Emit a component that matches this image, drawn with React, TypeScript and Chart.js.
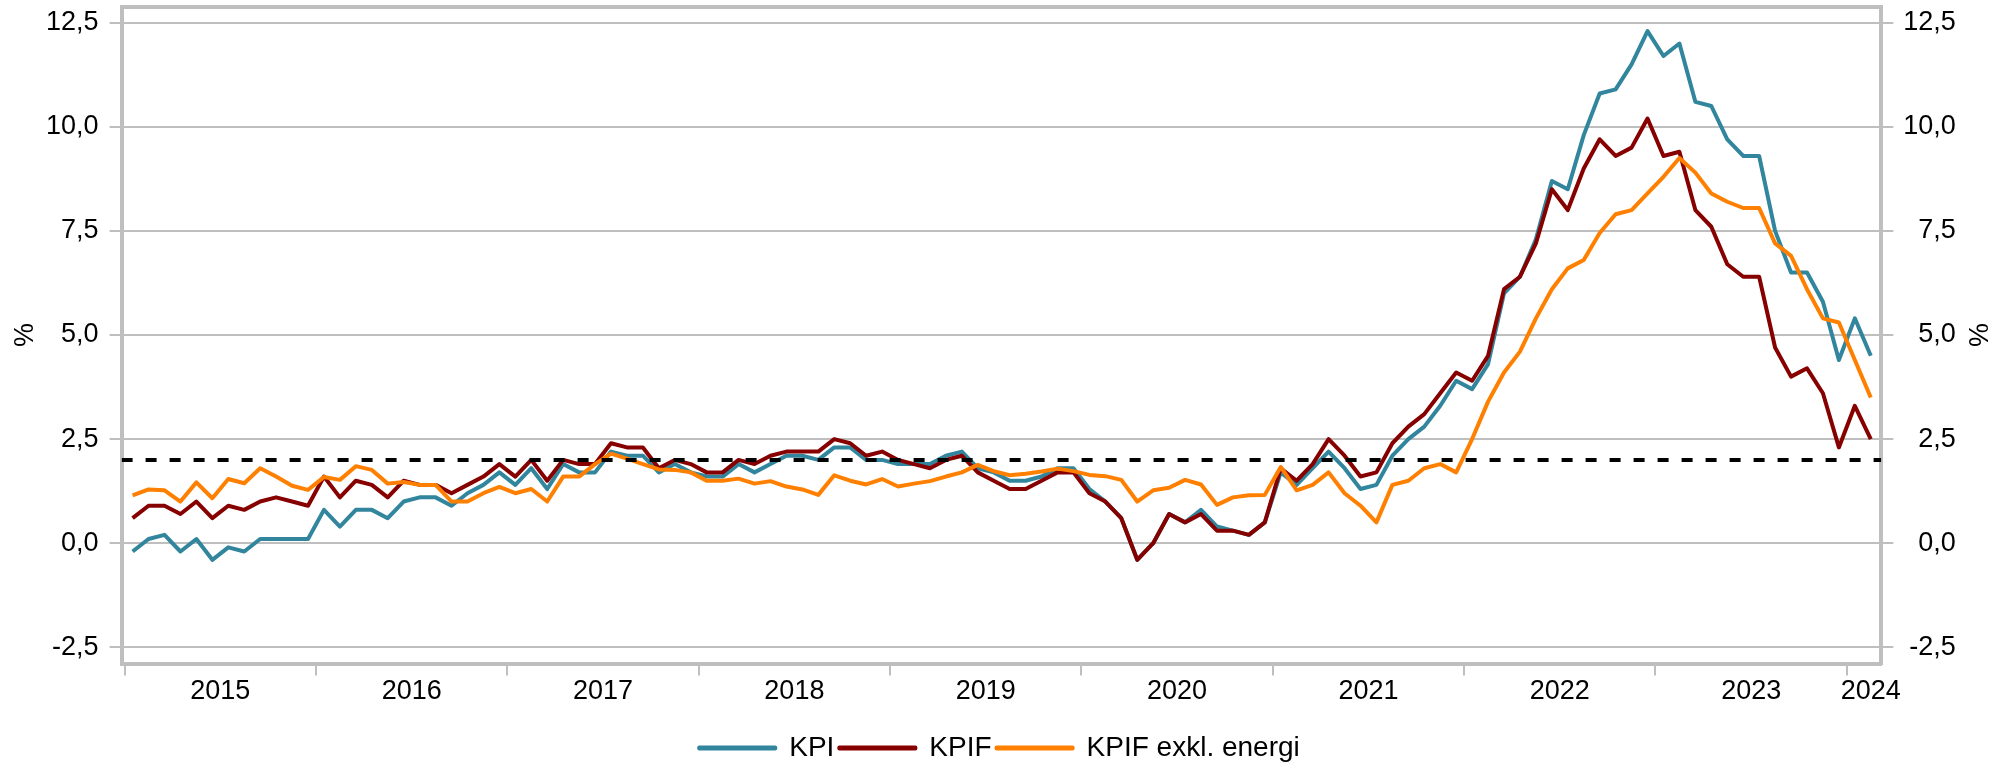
import { useEffect, useRef } from 'react';
import { Chart, registerables } from 'chart.js';

Chart.register(...registerables);

// ---------- data ----------
const YEARS: string[] = ['2015', '2016', '2017', '2018', '2019', '2020', '2021', '2022', '2023', '2024'];
const MONTHS_IN_YEAR: number[] = [12, 12, 12, 12, 12, 12, 12, 12, 12, 2];
const MONTHS: string[] = YEARS.flatMap((y, k) =>
  Array.from({ length: MONTHS_IN_YEAR[k] }, (_, m) => `${y}-${String(m + 1).padStart(2, '0')}`)
);

const KPI: number[] = [
  -0.2, 0.1, 0.2, -0.2, 0.1, -0.4, -0.1, -0.2, 0.1, 0.1, 0.1, 0.1,
  0.8, 0.4, 0.8, 0.8, 0.6, 1.0, 1.1, 1.1, 0.9, 1.2, 1.4, 1.7,
  1.4, 1.8, 1.3, 1.9, 1.7, 1.7, 2.2, 2.1, 2.1, 1.7, 1.9, 1.7,
  1.6, 1.6, 1.9, 1.7, 1.9, 2.1, 2.1, 2.0, 2.3, 2.3, 2.0, 2.0,
  1.9, 1.9, 1.9, 2.1, 2.2, 1.8, 1.7, 1.5, 1.5, 1.6, 1.8, 1.8,
  1.3, 1.0, 0.6, -0.4, 0.0, 0.7, 0.5, 0.8, 0.4, 0.3, 0.2, 0.5,
  1.7, 1.4, 1.8, 2.2, 1.8, 1.3, 1.4, 2.1, 2.5, 2.8, 3.3, 3.9,
  3.7, 4.3, 6.0, 6.4, 7.3, 8.7, 8.5, 9.8, 10.8, 10.9, 11.5, 12.3,
  11.7, 12.0, 10.6, 10.5, 9.7, 9.3, 9.3, 7.5, 6.5, 6.5, 5.8, 4.4,
  5.4, 4.5,
];

const KPIF: number[] = [
  0.6, 0.9, 0.9, 0.7, 1.0, 0.6, 0.9, 0.8, 1.0, 1.1, 1.0, 0.9,
  1.6, 1.1, 1.5, 1.4, 1.1, 1.5, 1.4, 1.4, 1.2, 1.4, 1.6, 1.9,
  1.6, 2.0, 1.5, 2.0, 1.9, 1.9, 2.4, 2.3, 2.3, 1.8, 2.0, 1.9,
  1.7, 1.7, 2.0, 1.9, 2.1, 2.2, 2.2, 2.2, 2.5, 2.4, 2.1, 2.2,
  2.0, 1.9, 1.8, 2.0, 2.1, 1.7, 1.5, 1.3, 1.3, 1.5, 1.7, 1.7,
  1.2, 1.0, 0.6, -0.4, 0.0, 0.7, 0.5, 0.7, 0.3, 0.3, 0.2, 0.5,
  1.8, 1.5, 1.9, 2.5, 2.1, 1.6, 1.7, 2.4, 2.8, 3.1, 3.6, 4.1,
  3.9, 4.5, 6.1, 6.4, 7.2, 8.5, 8.0, 9.0, 9.7, 9.3, 9.5, 10.2,
  9.3, 9.4, 8.0, 7.6, 6.7, 6.4, 6.4, 4.7, 4.0, 4.2, 3.6, 2.3,
  3.3, 2.5,
];

const KPIF_EXKL_ENERGI: number[] = [
  1.15, 1.29, 1.27, 1.0, 1.46, 1.08, 1.54, 1.44, 1.8, 1.6, 1.38, 1.28,
  1.59, 1.52, 1.85, 1.76, 1.43, 1.47, 1.4, 1.4, 1.0, 1.0, 1.2, 1.35,
  1.2, 1.3, 1.0, 1.6, 1.6, 1.9, 2.15, 2.03, 1.9, 1.77, 1.76, 1.7,
  1.5, 1.5, 1.55, 1.43, 1.49, 1.36, 1.29, 1.16, 1.63, 1.5, 1.41, 1.54,
  1.36, 1.43, 1.49, 1.6, 1.7, 1.88, 1.73, 1.63, 1.67, 1.72, 1.79, 1.73,
  1.64, 1.61, 1.52, 1.0, 1.27, 1.33, 1.52, 1.41, 0.92, 1.1, 1.15, 1.16,
  1.83, 1.27, 1.4, 1.7, 1.2, 0.9, 0.5, 1.4, 1.5, 1.8, 1.9, 1.7,
  2.5, 3.4, 4.1, 4.6, 5.4, 6.1, 6.6, 6.8, 7.45, 7.9, 8.0, 8.4,
  8.8, 9.25, 8.9, 8.4, 8.2, 8.05, 8.05, 7.2, 6.9, 6.1, 5.4, 5.3,
  4.4, 3.5,
];

const TARGET = 2.0;
const Y_TICKS: number[] = [-2.5, 0, 2.5, 5, 7.5, 10, 12.5];
const Y_MIN = -2.89;
const Y_MAX = 12.885;
const X_MIN = -0.69;
const X_MAX = 109.66;

// ---------- styles ----------
const FONT = "'Liberation Sans', Arial, Helvetica, sans-serif";
const GRID = '#BFBFBF';
const C_KPI = '#31859C';
const C_KPIF = '#870000';
const C_EXKL = '#FF8000';
const SIDE_PAD = 43.3;

// year boundaries (tick marks) and year label positions, in month-index units
const YEAR_START: number[] = MONTHS_IN_YEAR.map((_, k) => MONTHS_IN_YEAR.slice(0, k).reduce((a, b) => a + b, 0));
const BOUNDARIES: number[] = YEAR_START.map((s) => s - 0.5);
const LABEL_POS: number[] = YEAR_START.map((s, k) =>
  MONTHS_IN_YEAR[k] === 12 ? s + 5.5 : s + MONTHS_IN_YEAR[k] - 1
);
const X_LABELS = new Map<number, string>(LABEL_POS.map((c, k) => [c, YEARS[k]]));
const X_TICK_VALUES: number[] = [...BOUNDARIES, ...LABEL_POS].sort((a, b) => a - b);
const BOUNDARY_SET = new Set<number>(BOUNDARIES);

const fmt = (v: number | string) => Number(v).toFixed(1).replace('.', ',');

export default function App() {
  const ref = useRef<HTMLCanvasElement | null>(null);

  useEffect(() => {
    if (!ref.current) return;
    Chart.defaults.font.family = FONT;
    Chart.defaults.color = '#000';

    const line = (label: string, values: number[], color: string, order: number) => ({
      label,
      data: values.map((y, i) => ({ x: i, y })),
      borderColor: color,
      backgroundColor: color,
      borderWidth: 4,
      pointRadius: 0,
      pointHoverRadius: 0,
      tension: 0,
      borderJoinStyle: 'round' as const,
      order,
    });

    const chart = new Chart(ref.current, {
      type: 'line',
      data: {
        datasets: [
          line('KPI', KPI, C_KPI, 3),
          line('KPIF', KPIF, C_KPIF, 2),
          line('KPIF exkl. energi', KPIF_EXKL_ENERGI, C_EXKL, 1),
          {
            label: 'Inflationsmål',
            data: [
              { x: X_MIN, y: TARGET },
              { x: X_MAX, y: TARGET },
            ],
            borderColor: '#000',
            backgroundColor: '#000',
            borderWidth: 4,
            borderDash: [11, 13],
            pointRadius: 0,
            pointHoverRadius: 0,
            order: 0,
          },
        ],
      },
      options: {
        animation: false,
        responsive: false,
        maintainAspectRatio: false,
        events: [],
        layout: { padding: { top: 6.7, bottom: 0, left: SIDE_PAD, right: SIDE_PAD } },
        plugins: {
          tooltip: { enabled: false },
          legend: {
            position: 'bottom',
            labels: {
              boxWidth: 76,
              boxHeight: 1,
              padding: 5,
              color: '#000',
              font: { size: 28, family: FONT },
              filter: (item: any) => item.datasetIndex < 3,
              sort: (a: any, b: any) => a.datasetIndex - b.datasetIndex,
            },
          },
        },
        scales: {
          x: {
            type: 'linear',
            position: 'bottom',
            min: X_MIN,
            max: X_MAX,
            afterBuildTicks: (s: any) => {
              s.ticks = X_TICK_VALUES.map((value) => ({ value }));
            },
            afterFit: (s: any) => {
              s.height = 65.5;
              s.paddingLeft = 0;
              s.paddingRight = 0;
            },
            ticks: {
              autoSkip: false,
              maxRotation: 0,
              minRotation: 0,
              padding: 0,
              color: '#000',
              font: { size: 27, family: FONT },
              callback: (v: any) => X_LABELS.get(Number(v)) ?? '',
            },
            grid: {
              drawOnChartArea: false,
              drawTicks: true,
              tickLength: 12,
              lineWidth: 2,
              tickWidth: 2,
              color: 'rgba(0,0,0,0)',
              tickColor: (ctx: any) =>
                ctx.tick && BOUNDARY_SET.has(ctx.tick.value) ? GRID : 'rgba(0,0,0,0)',
            },
            border: { display: true, color: GRID, width: 4 },
          },
          xTop: {
            type: 'linear',
            position: 'top',
            min: 0,
            max: 1,
            ticks: { display: false },
            grid: { drawOnChartArea: false, drawTicks: false, color: 'rgba(0,0,0,0)' },
            border: { display: true, color: GRID, width: 4 },
            afterFit: (s: any) => {
              s.height = 0;
              s.paddingLeft = 0;
              s.paddingRight = 0;
            },
          },
          y: {
            type: 'linear',
            position: 'left',
            min: Y_MIN,
            max: Y_MAX,
            afterBuildTicks: (s: any) => {
              s.ticks = Y_TICKS.map((value) => ({ value }));
            },
            afterFit: (s: any) => {
              s.width = 121.6 - SIDE_PAD;
              s.paddingTop = 0;
              s.paddingBottom = 0;
            },
            ticks: {
              padding: 11,
              color: '#000',
              font: { size: 27, family: FONT },
              callback: (v: any) => fmt(v),
            },
            grid: { color: GRID, lineWidth: 2, drawTicks: true, tickLength: 12, tickColor: GRID },
            border: { display: true, color: GRID, width: 4 },
            title: {
              display: true,
              text: '%',
              color: '#000',
              font: { size: 27, family: FONT },
              padding: { top: -33.8, bottom: 0 },
            },
          },
          y2: {
            type: 'linear',
            position: 'right',
            min: Y_MIN,
            max: Y_MAX,
            afterBuildTicks: (s: any) => {
              s.ticks = Y_TICKS.map((value) => ({ value }));
            },
            afterFit: (s: any) => {
              s.width = 1999 - SIDE_PAD - 1881.3;
              s.paddingTop = 0;
              s.paddingBottom = 0;
            },
            ticks: {
              padding: 11,
              crossAlign: 'far',
              color: '#000',
              font: { size: 27, family: FONT },
              callback: (v: any) => fmt(v),
            },
            grid: { drawOnChartArea: false, color: GRID, lineWidth: 2, drawTicks: true, tickLength: 12, tickColor: GRID },
            border: { display: true, color: GRID, width: 4 },
            title: {
              display: true,
              text: '%',
              color: '#000',
              font: { size: 27, family: FONT },
              padding: { top: -37, bottom: 0 },
            },
          },
        },
      } as any,
    });

    return () => chart.destroy();
  }, []);

  return (
    <div style={{ position: 'fixed', left: 0, top: 0, width: 1999, height: 772, background: '#fff' }}>
      <canvas ref={ref} width={1999} height={772} style={{ width: 1999, height: 772, display: 'block' }} />
    </div>
  );
}
